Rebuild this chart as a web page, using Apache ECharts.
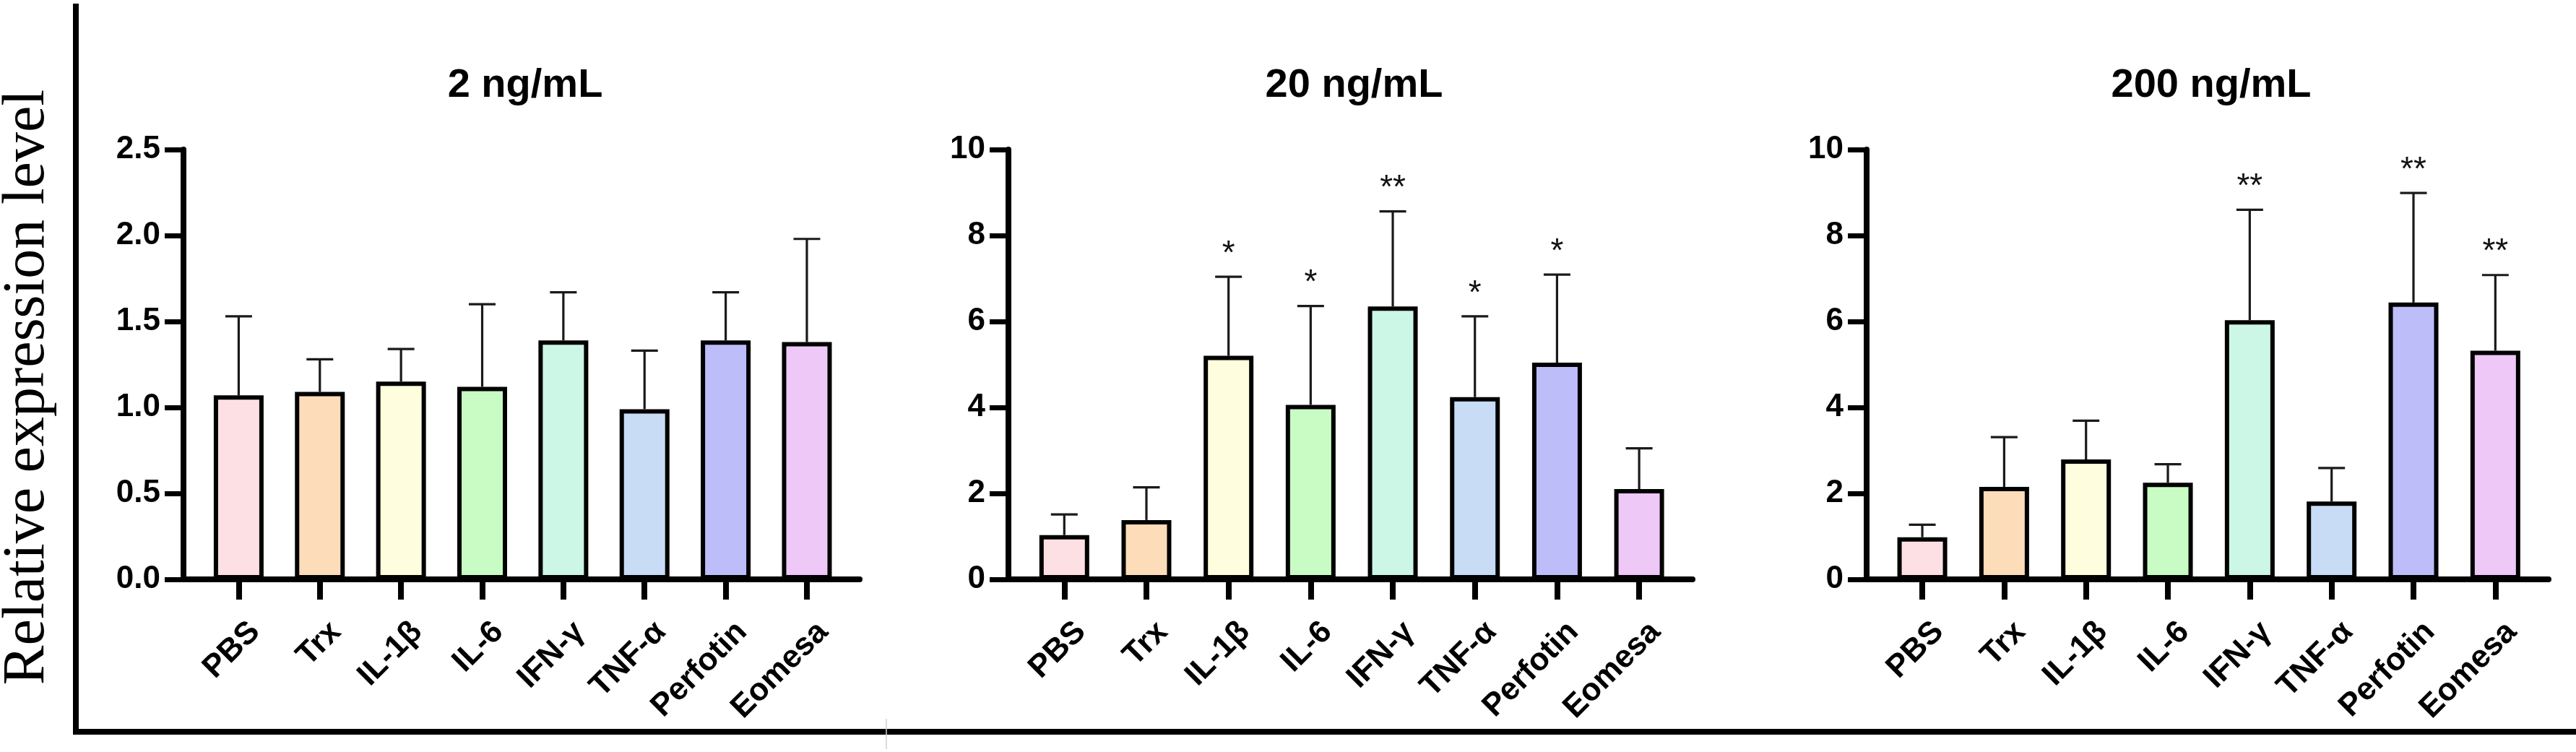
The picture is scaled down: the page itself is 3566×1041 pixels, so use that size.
<!DOCTYPE html>
<html>
<head>
<meta charset="utf-8">
<script src="https://cdn.jsdelivr.net/npm/echarts@6/dist/echarts.min.js"></script>
<style>
  html, body { margin: 0; padding: 0; background: #fff; }
  #chart { width: 3566px; height: 1041px; }
</style>
</head>
<body>
<div id="chart"></div>
<script>
// categories and colours
var categories = ['PBS', 'Trx', 'IL-1β', 'IL-6', 'IFN-γ', 'TNF-α', 'Perfotin', 'Eomesa'];
var barColors = ['#FDE0E3', '#FDDCB9', '#FEFDDD', '#C9FCC5', '#CCF6E6', '#C8DCF6', '#BDBDFA', '#EEC8F6'];

// panel titles
var panelTitles = ['2 ng/mL', '20 ng/mL', '200 ng/mL'];

// means (bar heights) and upper SD per panel
var mean2 = [1.07, 1.09, 1.15, 1.12, 1.39, 0.99, 1.39, 1.38];
var sd2 = [0.46, 0.19, 0.19, 0.48, 0.28, 0.34, 0.28, 0.60];

var mean20 = [1.03, 1.38, 5.20, 4.06, 6.35, 4.24, 5.04, 2.10];
var sd20 = [0.48, 0.76, 1.84, 2.30, 2.21, 1.88, 2.05, 0.95];

var mean200 = [0.98, 2.15, 2.79, 2.25, 6.03, 1.81, 6.44, 5.32];
var sd200 = [0.29, 1.16, 0.90, 0.43, 2.57, 0.78, 2.55, 1.76];

// significance marks
var stars2 = ['', '', '', '', '', '', '', ''];
var stars20 = ['', '', '*', '*', '**', '*', '*', ''];
var stars200 = ['', '', '', '', '**', '', '**', '**'];

// y axis ranges
var yMax = [2.5, 10, 10];
var yStep = [0.5, 2, 2];

var panels = [
  { mean: mean2, sd: sd2, stars: stars2 },
  { mean: mean20, sd: sd20, stars: stars20 },
  { mean: mean200, sd: sd200, stars: stars200 }
];

var FONT = 'Liberation Sans, Arial, sans-serif';
var gridLeft = [254, 1396, 2584];
var gridWidth = [936, 947, 944];
var gridTop = 207, gridHeight = 595;

var tickPos = categories.map(function (c, i) { return i; });
var labelPos = categories.map(function (c, i) { return i + 0.2; });

var grids = [], xAxes = [], yAxes = [], titles = [], series = [];

panels.forEach(function (p, k) {
  grids.push({ left: gridLeft[k], top: gridTop, width: gridWidth[k], height: gridHeight });

  titles.push({
    text: panelTitles[k],
    left: gridLeft[k] + gridWidth[k] / 2,
    top: 86,
    textAlign: 'center',
    textStyle: { fontFamily: FONT, fontWeight: 'bold', fontSize: 56, color: '#000' }
  });

  xAxes.push({
    gridIndex: k,
    type: 'value',
    min: -0.68,
    max: 7.65,
    splitLine: { show: false },
    axisLine: { show: true, onZero: false, lineStyle: { color: '#000', width: 8 } },
    axisTick: { show: true, customValues: tickPos, length: 28, lineStyle: { color: '#000', width: 8 } },
    axisLabel: {
      customValues: labelPos,
      rotate: 45,
      margin: 66,
      fontFamily: FONT,
      fontWeight: 'bold',
      fontSize: 44,
      color: '#000',
      formatter: function (v) { return categories[Math.round(v - 0.2)]; }
    }
  });

  yAxes.push({
    gridIndex: k,
    type: 'value',
    min: 0,
    max: yMax[k],
    interval: yStep[k],
    splitLine: { show: false },
    axisLine: { show: true, onZero: false, lineStyle: { color: '#000', width: 8 } },
    axisTick: { show: true, length: 26, lineStyle: { color: '#000', width: 7 } },
    axisLabel: {
      margin: 32,
      fontFamily: FONT,
      fontWeight: 'bold',
      fontSize: 44,
      color: '#000',
      formatter: function (v) { return k === 0 ? v.toFixed(1) : String(v); }
    }
  });

  series.push({
    type: 'bar',
    xAxisIndex: k,
    yAxisIndex: k,
    barWidth: 69,
    z: 3,
    data: p.mean.map(function (v, i) {
      return {
        value: [i, v],
        itemStyle: { color: barColors[i], borderColor: '#000', borderWidth: 6 }
      };
    })
  });

  series.push({
    type: 'custom',
    xAxisIndex: k,
    yAxisIndex: k,
    z: 2,
    encode: { x: 0, y: 1 },
    data: p.mean.map(function (v, i) { return [i, v, p.sd[i]]; }),
    renderItem: function (params, api) {
      var x = api.value(0), m = api.value(1), s = api.value(2);
      var base = api.coord([x, m]);
      var top = api.coord([x, m + s]);
      var children = [
        { type: 'line', shape: { x1: base[0], y1: base[1], x2: top[0], y2: top[1] },
          style: { stroke: '#1a1a1a', lineWidth: 3.2 } },
        { type: 'line', shape: { x1: top[0] - 18.5, y1: top[1], x2: top[0] + 18.5, y2: top[1] },
          style: { stroke: '#1a1a1a', lineWidth: 3.2 } }
      ];
      var star = p.stars[params.dataIndex];
      if (star) {
        children.push({
          type: 'text',
          style: {
            text: star, x: top[0], y: top[1] - 8,
            align: 'center', verticalAlign: 'bottom',
            fontFamily: FONT, fontSize: 46, fill: '#111'
          }
        });
      }
      return { type: 'group', children: children };
    }
  });
});

var chart = echarts.init(document.getElementById('chart'), null, { renderer: 'canvas' });
chart.setOption({
  animation: false,
  backgroundColor: '#fff',
  title: titles,
  grid: grids,
  xAxis: xAxes,
  yAxis: yAxes,
  series: series,
  graphic: [
    { type: 'line', shape: { x1: 105, y1: 5, x2: 105, y2: 1017 }, style: { stroke: '#000', lineWidth: 8 } },
    { type: 'line', shape: { x1: 101, y1: 1013, x2: 3566, y2: 1013 }, style: { stroke: '#000', lineWidth: 8 } },
    { type: 'line', shape: { x1: 1227, y1: 995, x2: 1227, y2: 1037 }, style: { stroke: '#d0d0d0', lineWidth: 1.5 } },
    {
      type: 'text',
      x: 38, y: 536,
      rotation: Math.PI / 2,
      style: {
        text: 'Relative expression level',
        align: 'center', verticalAlign: 'middle',
        fontFamily: 'Liberation Serif, Times New Roman, serif',
        fontSize: 82, fill: '#000'
      }
    }
  ]
});
</script>
</body>
</html>
